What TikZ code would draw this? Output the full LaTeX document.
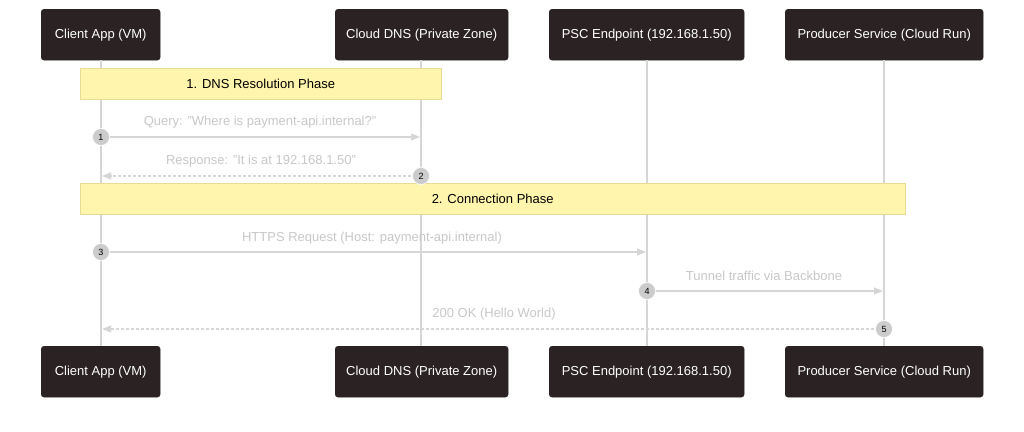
\documentclass[tikz,border=0pt]{standalone}
\usepackage{fontspec}
\setmainfont{Liberation Sans}
\usetikzlibrary{arrows.meta}
\definecolor{boxfill}{HTML}{2B2323}
\definecolor{notefill}{HTML}{FFF5AD}
\definecolor{notedraw}{HTML}{E8DC95}
\definecolor{lifec}{HTML}{D6D6D6}
\definecolor{msgtext}{HTML}{C8C8C8}
\definecolor{numfill}{HTML}{CCCCCC}
\tikzset{
  actor/.style={draw=boxfill, fill=boxfill, rounded corners=3pt, text=white, font=\fontsize{13}{15}\selectfont, minimum height=51pt, anchor=north west, inner sep=0pt},
  notebox/.style={draw=notedraw, fill=notefill, font=\fontsize{13}{15}\selectfont, minimum height=31pt, anchor=north west, inner sep=0pt},
  lifeline/.style={draw=lifec, line width=1.3pt},
  msg/.style={draw=lifec, line width=1.1pt, -{Triangle[length=9pt,width=7pt]}},
  reply/.style={msg, dash pattern=on 3pt off 2pt},
  msglabel/.style={text=msgtext, font=\fontsize{13}{15}\selectfont},
  num/.style={circle, fill=numfill, draw=white, line width=0.6pt, minimum size=17pt, inner sep=0pt, font=\fontsize{9}{10}\selectfont}
}
\begin{document}
\begin{tikzpicture}[x=1pt,y=-1pt]
\useasboundingbox[fill=white] (0,0) rectangle (1024,431);
% top actors
\node[actor, minimum width=119pt] (a1) at (41,9) {Client App (VM)};
\node[actor, minimum width=173pt] (a2) at (335,9) {Cloud DNS (Private Zone)};
\node[actor, minimum width=195pt] (a3) at (549,9) {PSC Endpoint (192.168.1.50)};
\node[actor, minimum width=198pt] (a4) at (785,9) {Producer Service (Cloud Run)};
% bottom actors
\node[actor, minimum width=119pt] (b1) at (41,346) {Client App (VM)};
\node[actor, minimum width=173pt] (b2) at (335,346) {Cloud DNS (Private Zone)};
\node[actor, minimum width=195pt] (b3) at (549,346) {PSC Endpoint (192.168.1.50)};
\node[actor, minimum width=198pt] (b4) at (785,346) {Producer Service (Cloud Run)};
% lifelines
\coordinate (l1t) at (101,60); \coordinate (l1b) at (101,346);
\coordinate (l2t) at (421,60); \coordinate (l2b) at (421,346);
\coordinate (l3t) at (647,60); \coordinate (l3b) at (647,346);
\coordinate (l4t) at (884,60); \coordinate (l4b) at (884,346);
\draw[lifeline] (l1t) -- (l1b);
\draw[lifeline] (l2t) -- (l2b);
\draw[lifeline] (l3t) -- (l3b);
\draw[lifeline] (l4t) -- (l4b);
% notes
\node[notebox, minimum width=361pt] (n1) at (80,68) {1. DNS Resolution Phase};
\node[notebox, minimum width=825pt] (n2) at (80,183) {2. Connection Phase};
% messages
\coordinate (m1s) at (101,137); \coordinate (m1e) at (420,137);
\draw[msg] (m1s) -- (m1e);
\node[msglabel] (t1) at (260,122) {Query: "Where is payment-api.internal?"};
\node[num] (c1) at (m1s) {1};

\coordinate (m2s) at (421,176); \coordinate (m2e) at (102,176);
\draw[reply] (m2s) -- (m2e);
\node[msglabel] (t2) at (261,161) {Response: "It is at 192.168.1.50"};
\node[num] (c2) at (m2s) {2};

\coordinate (m3s) at (101,252); \coordinate (m3e) at (646,252);
\draw[msg] (m3s) -- (m3e);
\node[msglabel] (t3) at (372,238) {HTTPS Request (Host: payment-api.internal)};
\node[num] (c3) at (m3s) {3};

\coordinate (m4s) at (647,291); \coordinate (m4e) at (883,291);
\draw[msg] (m4s) -- (m4e);
\node[msglabel] (t4) at (764,276) {Tunnel traffic via Backbone};
\node[num] (c4) at (m4s) {4};

\coordinate (m5s) at (884,329); \coordinate (m5e) at (102,329);
\draw[reply] (m5s) -- (m5e);
\node[msglabel] (t5) at (494,314) {200 OK (Hello World)};
\node[num] (c5) at (m5s) {5};
\end{tikzpicture}
\end{document}
